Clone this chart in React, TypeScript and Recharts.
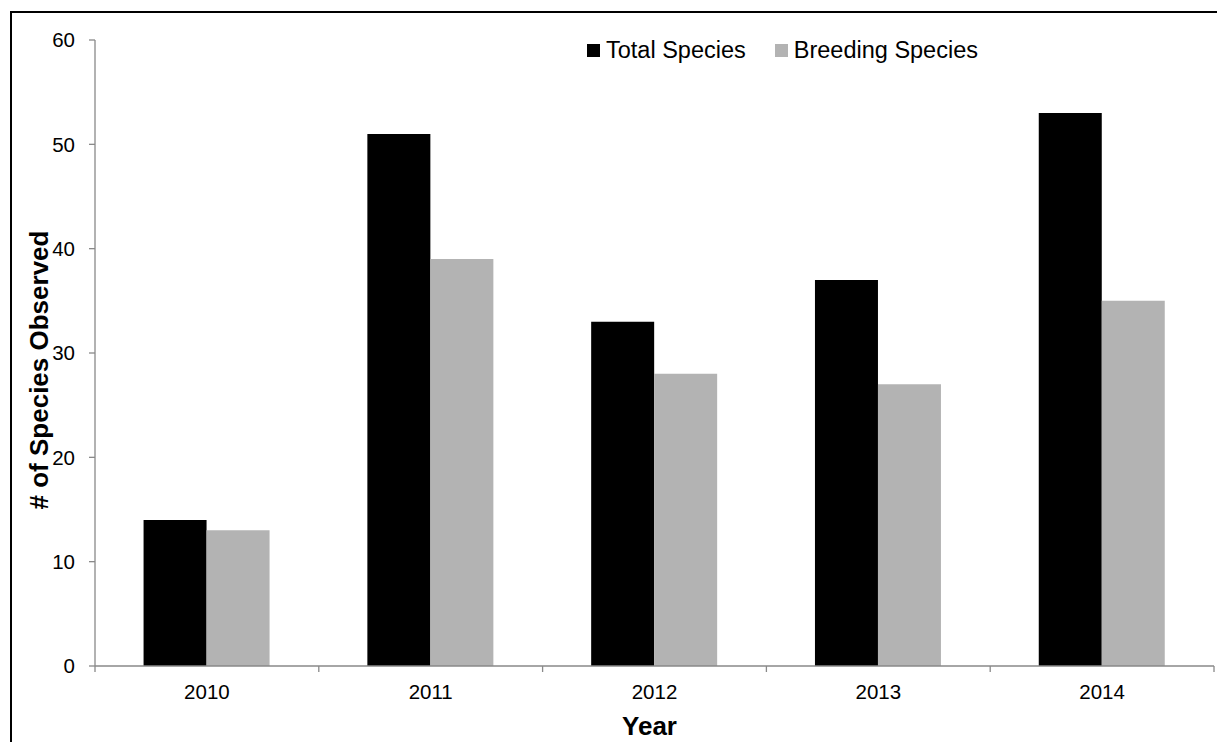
import React from 'react';
import { BarChart, Bar, XAxis, YAxis, Legend, Label } from 'recharts';

const years = ['2010', '2011', '2012', '2013', '2014'];
const totalSpecies = [14, 51, 33, 37, 53];
const breedingSpecies = [13, 39, 28, 27, 35];
const yTicks = [0, 10, 20, 30, 40, 50, 60];
const seriesNames = ['Total Species', 'Breeding Species'];

const data = years.map((y, i) => ({ year: y, total: totalSpecies[i], breeding: breedingSpecies[i] }));

const W = 1217;
const H = 734;
const MARGIN = { top: 32, right: 11, bottom: 16, left: 0 };
const Y_AXIS_W = 87;
const X_AXIS_H = 60;
const PLOT_W = W - MARGIN.left - MARGIN.right - Y_AXIS_W;
const BAND = PLOT_W / years.length;
const FONT = "Arial, 'Liberation Sans', sans-serif";
const AXIS_COLOR = '#898989';
const TICK_MARGIN = 18;
const TICK_FONT = 20.5;

const XTick = (props: any) => {
  const { x, y, payload, index } = props;
  const axisY = y - TICK_MARGIN;
  const lines = [
    <line key="l" x1={x - BAND / 2} x2={x - BAND / 2} y1={axisY} y2={axisY + 6} stroke={AXIS_COLOR} strokeWidth={1.3} />,
  ];
  if (index === years.length - 1) {
    lines.push(
      <line key="r" x1={x + BAND / 2} x2={x + BAND / 2} y1={axisY} y2={axisY + 6} stroke={AXIS_COLOR} strokeWidth={1.3} />
    );
  }
  return (
    <g>
      {lines}
      <text x={x} y={y} dy="0.71em" textAnchor="middle" fill="#000" fontSize={TICK_FONT} fontFamily={FONT}>
        {payload.value}
      </text>
    </g>
  );
};

const renderLegend = (props: any) => {
  const payload = [...(props.payload || [])].sort(
    (a: any, b: any) => seriesNames.indexOf(a.value) - seriesNames.indexOf(b.value)
  );
  return (
    <div style={{ display: 'flex', alignItems: 'center', fontFamily: FONT, fontSize: 23.5, color: '#000', whiteSpace: 'nowrap' }}>
      {payload.map((entry: any, i: number) => (
        <div key={i} style={{ display: 'flex', alignItems: 'center', marginRight: i === 0 ? 29 : 0 }}>
          <span style={{ display: 'inline-block', width: 13, height: 13, background: entry.color, marginRight: 6 }} />
          <span>{entry.value}</span>
        </div>
      ))}
    </div>
  );
};

const YTitle = () => {
  const cx = 40;
  const cy = 362;
  return (
    <text
      x={cx}
      y={cy}
      transform={`rotate(-90 ${cx} ${cy})`}
      textAnchor="middle"
      fontSize={26}
      fontWeight="bold"
      fontFamily={FONT}
      fill="#000"
    >
      # of Species Observed
    </text>
  );
};

const XTitle = (props: any) => {
  const vb = props.viewBox || { x: 0, y: 0, width: 0, height: 0 };
  const cx = vb.x + vb.width / 2 - 5;
  const by = vb.y + 69;
  return (
    <text x={cx} y={by} textAnchor="middle" fontSize={26} fontWeight="bold" fontFamily={FONT} fill="#000">
      Year
    </text>
  );
};

export default function App() {
  return (
    <div style={{ position: 'relative', width: W, height: H, overflow: 'hidden' }}>
      <div
        style={{
          position: 'absolute',
          left: 2,
          top: 3,
          width: 1400,
          height: 900,
          border: '2px solid #000',
          boxSizing: 'border-box',
        }}
      />
      <div style={{ position: 'absolute', left: 0, top: 0 }}>
        <BarChart
          width={W}
          height={H}
          data={data}
          margin={MARGIN}
          barCategoryGap="21.7%"
          barGap={0}
        >
          <XAxis
            dataKey="year"
            height={X_AXIS_H}
            axisLine={{ stroke: AXIS_COLOR, strokeWidth: 1.3 }}
            tickLine={false}
            tickSize={0}
            tickMargin={TICK_MARGIN}
            tick={<XTick />}
            interval={0}
          >
            <Label content={<XTitle />} />
          </XAxis>
          <YAxis
            width={Y_AXIS_W}
            domain={[0, 60]}
            ticks={yTicks}
            interval={0}
            axisLine={{ stroke: AXIS_COLOR, strokeWidth: 1.3 }}
            tickLine={{ stroke: AXIS_COLOR, strokeWidth: 1.3 }}
            tickSize={6}
            tickMargin={14}
            tick={{ fill: '#000', fontSize: TICK_FONT, fontFamily: FONT }}
          >
            <Label content={<YTitle />} />
          </YAxis>
          <Legend
            layout="horizontal"
            verticalAlign="middle"
            align="center"
            itemSorter={null as any}
            content={renderLegend}
            wrapperStyle={{ position: 'absolute', left: 579, top: 29, width: 'auto', height: 'auto' }}
          />
          <Bar dataKey="total" name="Total Species" fill="#000000" isAnimationActive={false} />
          <Bar dataKey="breeding" name="Breeding Species" fill="#b3b3b3" isAnimationActive={false} />
        </BarChart>
      </div>
    </div>
  );
}
